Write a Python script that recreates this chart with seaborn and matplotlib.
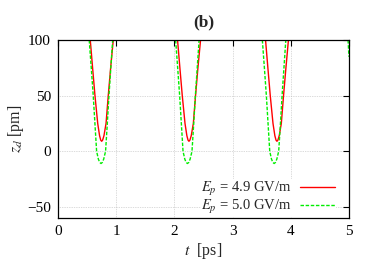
import numpy as np
import matplotlib
matplotlib.use("Agg")
import matplotlib.pyplot as plt
import seaborn as sns
import pandas as pd

# readings: each dip is one segment, (t [ps], z_d [pm])
red_t = [
    [0.555, 0.595, 0.636, 0.683, 0.715, 0.735, 0.751, 0.767, 0.790, 0.826, 0.864, 0.905, 0.950],
    [2.055, 2.095, 2.136, 2.183, 2.215, 2.235, 2.251, 2.267, 2.290, 2.326, 2.364, 2.405, 2.450],
    [3.567, 3.607, 3.648, 3.695, 3.727, 3.747, 3.763, 3.779, 3.802, 3.838, 3.876, 3.917, 3.960],
]
red_z = [100, 75, 50, 25, 14, 10, 9, 10, 14, 25, 50, 75, 100]

green_t = [
    [0.537, 0.572, 0.606, 0.635, 0.664, 0.694, 0.717, 0.740, 0.763, 0.786, 0.818, 0.848, 0.876, 0.908, 0.940],
    [2.022, 2.057, 2.091, 2.120, 2.149, 2.179, 2.202, 2.225, 2.248, 2.271, 2.303, 2.333, 2.361, 2.393, 2.425],
    [3.512, 3.547, 3.581, 3.610, 3.639, 3.669, 3.692, 3.715, 3.738, 3.761, 3.793, 3.823, 3.851, 3.883, 3.915],
]
green_z = [100, 75, 50, 25, 0, -7, -10, -11, -10, -7, 0, 25, 50, 75, 100]
green_end_t = [4.985, 5.0]
green_end_z = [100, 85]

labels = ["$E_p$ = 4.9 GV/m", "$E_p$ = 5.0 GV/m"]
xticks = [0, 1, 2, 3, 4, 5]
yticks = [-50, 0, 50, 100]

rows = []
for k, ts in enumerate(red_t):
    for t, z in zip(ts, red_z):
        rows.append((labels[0], k, t, z))
for k, ts in enumerate(green_t):
    for t, z in zip(ts, green_z):
        rows.append((labels[1], k, t, z))
for t, z in zip(green_end_t, green_end_z):
    rows.append((labels[1], 9, t, z))
df = pd.DataFrame(rows, columns=["series", "seg", "t", "z"])

sns.set_style("white")
plt.rcParams["font.family"] = ["Liberation Serif", "DejaVu Serif"]
plt.rcParams["mathtext.fontset"] = "stix"

fig = plt.figure(figsize=(3.74, 2.62), dpi=100)
ax = fig.add_axes([0.155, 0.168, 0.778, 0.679])

sns.lineplot(data=df, x="t", y="z", hue="series", style="series", units="seg",
             estimator=None, sort=False, ax=ax,
             palette={labels[0]: "#ff0000", labels[1]: "#00ee00"},
             dashes={labels[0]: "", labels[1]: (2.5, 1.2)}, linewidth=1.0)

ax.set_xlim(0, 5)
ax.set_ylim(-60, 100)
ax.set_xticks(xticks)
ax.set_yticks(yticks)
ax.grid(True, color="#b8b8b8", linestyle=(0, (1, 1.5)), linewidth=0.5)
ax.tick_params(direction="in", top=True, right=True, length=4, width=0.8,
               labelsize=11, colors="black", pad=5)
for s in ax.spines.values():
    s.set_color("black")
    s.set_linewidth(0.9)

ax.set_xlabel("$t$  [ps]", fontsize=11.5, labelpad=2)
ax.set_ylabel("$z_d$ [pm]", fontsize=11.5, labelpad=1)
ax.set_title("(b)", fontsize=12.5, fontweight="bold", pad=10)

h, l = ax.get_legend_handles_labels()
leg = ax.legend(h, l, loc="lower right", bbox_to_anchor=(0.955, 0.008),
                markerfirst=False, frameon=True, fontsize=10.5,
                handlelength=2.4, handletextpad=0.55, labelspacing=0.0,
                borderpad=0.05, borderaxespad=0.0)
leg.get_frame().set_edgecolor("none")
leg.get_frame().set_facecolor("white")
leg.get_frame().set_alpha(1)
for t in leg.get_texts():
    t.set_ha("right")

fig.savefig("out.png", dpi=100)
